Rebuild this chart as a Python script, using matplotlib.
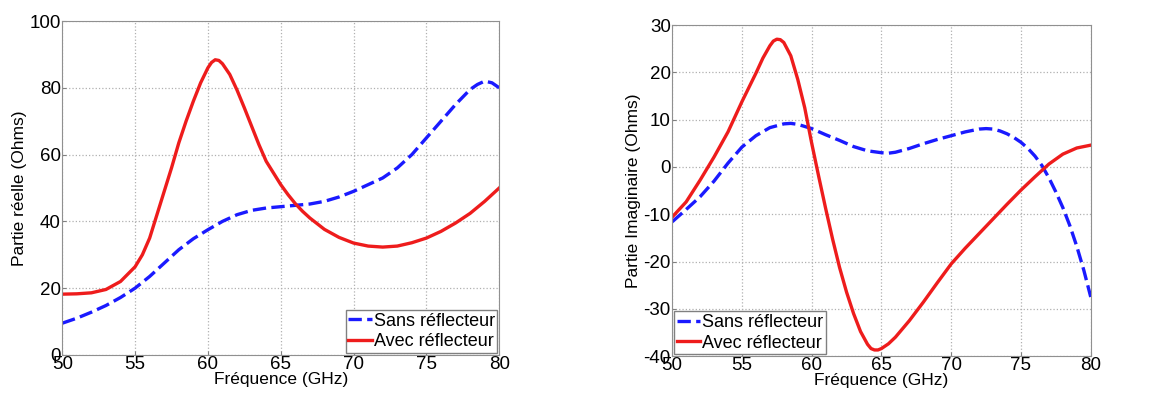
import matplotlib.pyplot as plt

plt.rcParams['font.family'] = ['Liberation Sans', 'DejaVu Sans']
plt.rcParams['axes.unicode_minus'] = False

# Partie réelle
freq_re_sans = [50, 51, 52, 53, 54, 55, 56, 57, 58, 59, 60, 61, 62, 63, 64, 65, 66, 67,
                68, 69, 70, 71, 72, 73, 74, 75, 76, 77, 78, 78.5, 79, 79.5, 80]
re_sans = [9.5, 11, 12.8, 14.8, 17.2, 20, 23.5, 27.5, 31.5, 34.8, 37.5, 40, 42, 43.3,
           44, 44.4, 44.8, 45.2, 46, 47.3, 49, 51, 53, 56, 60, 65, 70, 75, 79.5, 81,
           82, 81.5, 80]

freq_re_avec = [50, 51, 52, 53, 54, 55, 55.5, 56, 56.5, 57, 57.5, 58, 58.5, 59, 59.5, 60,
                60.25, 60.5, 60.75, 61, 61.5, 62, 62.5, 63, 63.5, 64, 64.5, 65, 65.5, 66,
                66.5, 67, 68, 69, 70, 71, 72, 73, 74, 75, 76, 77, 78, 79, 80]
re_avec = [18.2, 18.3, 18.6, 19.6, 22, 26.4, 30, 35, 42, 49, 56, 63.5, 70, 76, 81.5, 86,
           87.6, 88.4, 88.2, 87.2, 84, 79.3, 74, 68.5, 63, 58, 54.5, 51, 48, 45.3, 43,
           41, 37.6, 35.2, 33.5, 32.6, 32.3, 32.6, 33.6, 35, 37, 39.5, 42.4, 46, 50]

# Partie imaginaire
freq_im_sans = [50, 51, 52, 53, 54, 55, 56, 57, 58, 58.5, 59, 60, 61, 62, 63, 64, 65,
                65.5, 66, 67, 68, 69, 70, 71, 72, 72.5, 73, 73.5, 74, 74.5, 75, 75.5, 76,
                76.5, 77, 77.5, 78, 78.5, 79, 79.5, 80]
im_sans = [-11.6, -9, -6.3, -3, 0.8, 4.2, 6.6, 8.3, 9.1, 9.2, 9.0, 8.1, 6.8, 5.6, 4.3,
           3.4, 3.0, 2.9, 3.1, 3.9, 4.9, 5.8, 6.6, 7.4, 8.0, 8.1, 8.0, 7.6, 7.0, 6.2, 5.2,
           3.9, 2.3, 0.3, -2.3, -5.3, -8.6, -12.4, -16.8, -21.8, -27.5]

freq_im_avec = [50, 51, 52, 53, 54, 55, 56, 56.5, 57, 57.25, 57.5, 57.75, 58, 58.5, 59,
                59.5, 60, 60.5, 61, 61.5, 62, 62.5, 63, 63.5, 64, 64.25, 64.5, 64.75, 65,
                65.5, 66, 67, 68, 69, 70, 71, 72, 73, 74, 75, 76, 77, 78, 79, 80]
im_avec = [-10.6, -7.4, -2.8, 2.1, 7.4, 13.8, 19.8, 23, 25.6, 26.6, 27, 26.9, 26.3, 23.5,
           18.5, 12.5, 5, -2, -8.8, -15.3, -21.3, -26.5, -31, -34.8, -37.5, -38.4, -38.7,
           -38.7, -38.4, -37.4, -36, -32.5, -28.6, -24.5, -20.5, -17.2, -14.1, -11, -7.9,
           -4.9, -2.1, 0.6, 2.7, 4.0, 4.6]

labels = ['Sans réflecteur', 'Avec réflecteur']
blue = '#1a1aff'
red = '#ee1c1c'

fig = plt.figure(figsize=(11.53, 3.97), dpi=100)
ax1 = fig.add_axes([0.054, 0.106, 0.379, 0.841])
ax2 = fig.add_axes([0.583, 0.103, 0.363, 0.834])

panels = [
    (ax1, freq_re_sans, re_sans, freq_re_avec, re_avec, (0, 100), range(0, 101, 20),
     'Partie réelle (Ohms)', 'lower right'),
    (ax2, freq_im_sans, im_sans, freq_im_avec, im_avec, (-40, 30), range(-40, 31, 10),
     'Partie Imaginaire (Ohms)', 'lower left'),
]

for ax, fs, ys, fa, ya, ylim, yticks, ylabel, loc in panels:
    ax.plot(fs, ys, color=blue, lw=2.4, dashes=(4, 1.6), label=labels[0],
            dash_joinstyle='round', dash_capstyle='butt')
    ax.plot(fa, ya, color=red, lw=2.4, label=labels[1], solid_joinstyle='round')
    ax.set_xlim(50, 80)
    ax.set_ylim(*ylim)
    ax.set_xticks(range(50, 81, 5))
    ax.set_yticks(list(yticks))
    ax.grid(True, color='#b0b0b0', linestyle=':', linewidth=0.9)
    ax.tick_params(direction='in', labelsize=13.5, length=3, pad=1, color='#808080')
    for s in ax.spines.values():
        s.set_color('#909090')
    ax.set_xlabel('Fréquence (GHz)', fontsize=12.5, labelpad=-1)
    ax.set_ylabel(ylabel, fontsize=12.5, labelpad=2)
    leg = ax.legend(loc=loc, fontsize=13, handlelength=1.3, handletextpad=0.1,
                    borderpad=0.15, labelspacing=0.2, borderaxespad=0.1,
                    fancybox=False, framealpha=1)
    leg.get_frame().set_edgecolor('#808080')

fig.savefig('out.png', dpi=100)
